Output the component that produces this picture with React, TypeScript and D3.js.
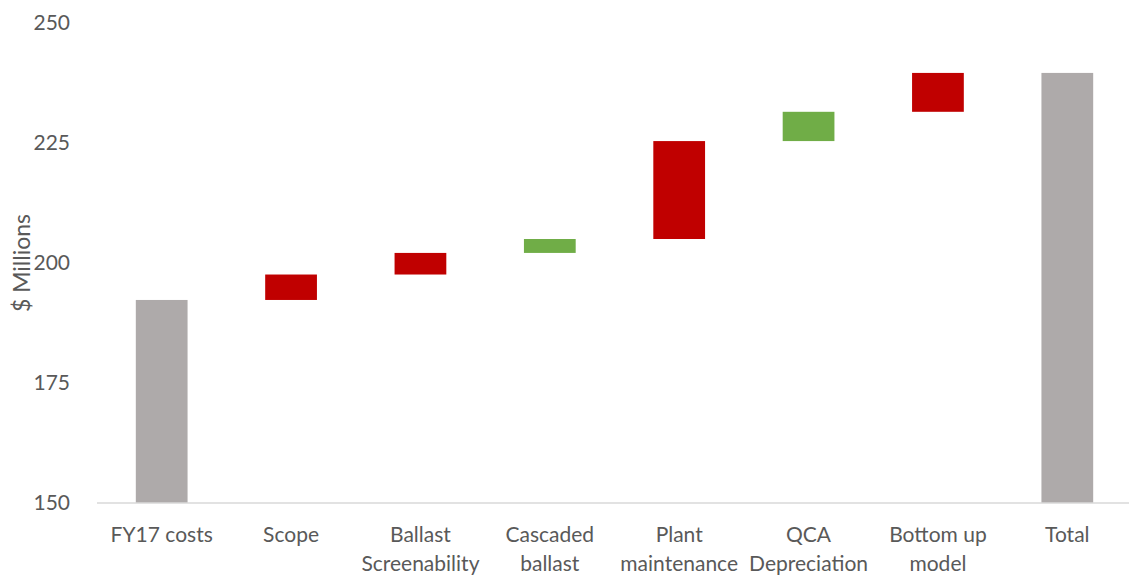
import React from "react";
import * as d3 from "d3";

const categories: string[][] = [
  ["FY17 costs"],
  ["Scope"],
  ["Ballast", "Screenability"],
  ["Cascaded", "ballast"],
  ["Plant", "maintenance"],
  ["QCA", "Depreciation"],
  ["Bottom up", "model"],
  ["Total"],
];
// start value, then changes, then total (computed)
const startValue = 192.3;
const deltas = [5.3, 4.5, 2.9, 20.4, 6.1, 8.1];
const deltaKinds = ["red", "red", "green", "red", "green", "red"];
const yTicks = [150, 175, 200, 225, 250];

const COLORS: Record<string, string> = {
  total: "#AEAAAA",
  red: "#C00000",
  green: "#70AD47",
};

const W = 1129;
const H = 576;

export default function App() {
  const x = d3
    .scaleBand<number>()
    .domain(d3.range(categories.length))
    .range([97, 1132])
    .paddingInner(0.6)
    .paddingOuter(0.3);
  const y = d3.scaleLinear().domain([150, 250]).range([503, 23]);

  type Bar = { i: number; lo: number; hi: number; kind: string };
  const bars: Bar[] = [];
  bars.push({ i: 0, lo: 150, hi: startValue, kind: "total" });
  let cum = startValue;
  deltas.forEach((d, k) => {
    bars.push({ i: k + 1, lo: cum, hi: cum + d, kind: deltaKinds[k] });
    cum += d;
  });
  bars.push({ i: categories.length - 1, lo: 150, hi: cum, kind: "total" });

  const font = "Lato, 'Open Sans', sans-serif";
  const textColor = "#595959";

  return (
    <svg width={W} height={H} style={{ position: "absolute", left: 0, top: 0 }}>
      <rect width={W} height={H} fill="#fff" />
      {bars.map((b) => (
        <rect
          key={b.i}
          x={x(b.i)}
          width={x.bandwidth()}
          y={y(Math.max(b.lo, b.hi))}
          height={Math.abs(y(b.lo) - y(b.hi))}
          fill={COLORS[b.kind]}
        />
      ))}
      <line x1={97} x2={W} y1={y(150)} y2={y(150)} stroke="#D9D9D9" strokeWidth={1.5} />
      {yTicks.map((t) => (
        <text
          key={t}
          x={70}
          y={y(t)}
          dy="0.35em"
          textAnchor="end"
          fontFamily={font}
          fontSize={21}
          fill={textColor}
        >
          {t}
        </text>
      ))}
      {categories.map((lines, i) => (
        <text
          key={i}
          x={(x(i) as number) + x.bandwidth() / 2}
          textAnchor="middle"
          fontFamily={font}
          fontSize={21}
          fill={textColor}
        >
          {lines.map((l, j) => (
            <tspan key={j} x={(x(i) as number) + x.bandwidth() / 2} y={542 + j * 29}>
              {l}
            </tspan>
          ))}
        </text>
      ))}
      <text
        transform={`translate(30,263) rotate(-90)`}
        textAnchor="middle"
        fontFamily={font}
        fontSize={23}
        fill={textColor}
      >
        $ Millions
      </text>
    </svg>
  );
}
